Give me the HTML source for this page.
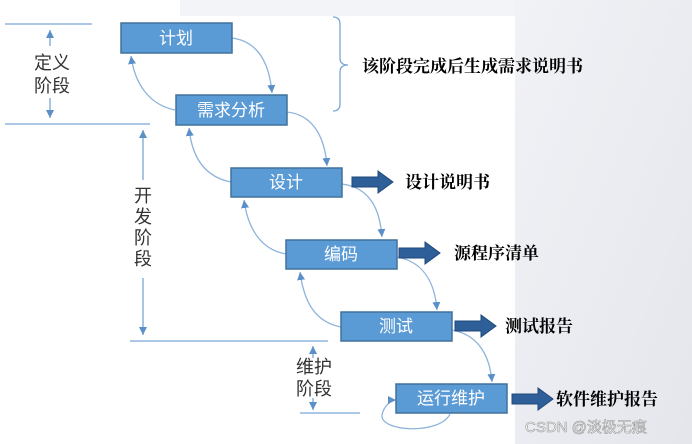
<!DOCTYPE html>
<html><head><meta charset="utf-8"><style>
html,body{margin:0;padding:0;width:692px;height:444px;overflow:hidden;background:#fff}
svg{display:block}
.bx{fill:#5b9bd5;stroke:#41719c;stroke-width:1.5}
.bt{fill:#fff;font-family:"Liberation Sans","Noto Sans CJK SC",sans-serif;font-size:17px;text-anchor:middle}
.lt{fill:#333;font-family:"Liberation Sans","Noto Sans CJK SC",sans-serif;font-size:18px;text-anchor:middle}
.ot{fill:#000;font-family:"Liberation Serif","Noto Serif CJK SC",serif;font-size:17px;font-weight:bold}
.ln{stroke:#7aa6d6;stroke-width:1.3;fill:none}
.cv{stroke:#8fb4dc;stroke-width:1.3;fill:none}
.ba{fill:#2e5f99;stroke:#1f4a7a;stroke-width:1}
</style></head><body>
<svg width="692" height="444" viewBox="0 0 692 444">
<defs>
<linearGradient id="g" x1="0" y1="0" x2="1" y2="1"><stop offset="0" stop-color="#f1f2f6"/><stop offset="1" stop-color="#e4e6ec"/></linearGradient>
<marker id="m" markerWidth="10" markerHeight="10" refX="8" refY="4" orient="auto" markerUnits="userSpaceOnUse"><path d="M0,0 L8,4 L0,8 z" fill="#5b8fc8"/></marker>
</defs>
<rect x="515" y="0" width="177" height="444" fill="url(#g)"/>
<rect x="180" y="0" width="335" height="16" fill="#f3f4f7"/>
<line class="ln" x1="5" y1="24" x2="92" y2="24"/>
<line class="ln" x1="5" y1="124" x2="150" y2="124"/>
<line class="ln" x1="50" y1="46" x2="50" y2="30" marker-end="url(#m)"/>
<line class="ln" x1="50" y1="98" x2="50" y2="118" marker-end="url(#m)"/>
<text class="lt" x="52" y="69">定义</text><text class="lt" x="52" y="92">阶段</text>
<line class="ln" x1="143" y1="180" x2="143" y2="130" marker-end="url(#m)"/>
<line class="ln" x1="143" y1="278" x2="143" y2="335" marker-end="url(#m)"/>
<text class="lt" x="143" y="202">开</text><text class="lt" x="143" y="223">发</text><text class="lt" x="143" y="244">阶</text><text class="lt" x="143" y="265">段</text>
<line class="ln" x1="130" y1="341" x2="328" y2="341"/>
<line class="ln" x1="313" y1="358" x2="313" y2="346" marker-end="url(#m)"/>
<line class="ln" x1="313" y1="398" x2="313" y2="410" marker-end="url(#m)"/>
<line class="ln" x1="300" y1="413" x2="360" y2="413"/>
<text class="lt" x="314" y="373">维护</text><text class="lt" x="314" y="395">阶段</text>
<path class="ln" d="M333,17 Q340,17 340,24 L340,58 Q340,65 348,65 Q340,65 340,72 L340,104 Q340,111 333,111"/>
<text class="ot" x="362" y="72">该阶段完成后生成需求说明书</text>
<path class="cv" d="M232,38 C262,42 270,70 272,93" marker-end="url(#m)"/>
<path class="cv" d="M287,112 C315,115 325,140 327,166" marker-end="url(#m)"/>
<path class="cv" d="M342,184 C372,188 380,212 382,237" marker-end="url(#m)"/>
<path class="cv" d="M397,257 C425,262 435,285 437,310" marker-end="url(#m)"/>
<path class="cv" d="M452,330 C480,335 490,358 492,382" marker-end="url(#m)"/>
<path class="cv" d="M175,110 C150,105 135,85 131,56" marker-end="url(#m)"/>
<path class="cv" d="M231,182 C205,177 192,158 189,128" marker-end="url(#m)"/>
<path class="cv" d="M286,254 C262,250 248,230 244,200" marker-end="url(#m)"/>
<path class="cv" d="M341,327 C315,322 304,302 300,272" marker-end="url(#m)"/>
<path class="cv" d="M450,414 C440,435 380,432 382,415 C384,405 392,400 396,400" marker-end="url(#m)"/>
<rect class="bx" x="121" y="23" width="111" height="30"/><text class="bt" x="176" y="44">计划</text>
<rect class="bx" x="176" y="95" width="111" height="30"/><text class="bt" x="231" y="116">需求分析</text>
<rect class="bx" x="231" y="168" width="111" height="29"/><text class="bt" x="286" y="188">设计</text>
<rect class="bx" x="286" y="240" width="111" height="29"/><text class="bt" x="341" y="260">编码</text>
<rect class="bx" x="341" y="312" width="111" height="29"/><text class="bt" x="396" y="332">测试</text>
<rect class="bx" x="396" y="384" width="111" height="29"/><text class="bt" x="451" y="404">运行维护</text>
<path class="ba" d="M352,177 h26 v-6 l15,11 l-15,11 v-6 h-26 z"/>
<text class="ot" x="405" y="188">设计说明书</text>
<path class="ba" d="M399,248 h26 v-6 l15,11 l-15,11 v-6 h-26 z"/>
<text class="ot" x="454" y="259">源程序清单</text>
<path class="ba" d="M455,321 h26 v-6 l15,11 l-15,11 v-6 h-26 z"/>
<text class="ot" x="505" y="332">测试报告</text>
<path class="ba" d="M512,394 h26 v-6 l15,11 l-15,11 v-6 h-26 z"/>
<text class="ot" x="556" y="405">软件维护报告</text>
<text x="525" y="432" font-family="Liberation Sans,'Noto Sans CJK SC',sans-serif" font-size="15" fill="#fff" stroke="#999" stroke-width="0.6">CSDN @淡极无痕</text>
</svg>
</body></html>
